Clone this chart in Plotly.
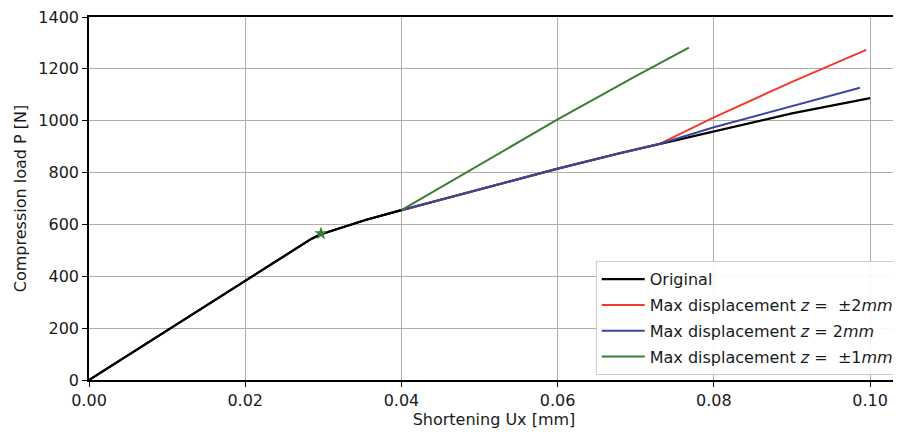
import plotly.graph_objects as go

orig_x = [0.0, 0.01, 0.02, 0.0255, 0.0272, 0.0285, 0.0297, 0.032, 0.0355, 0.04, 0.05, 0.06, 0.068, 0.073, 0.08, 0.09, 0.10]
orig_y = [0, 192, 385, 490, 522, 545, 562, 585, 618, 655, 735, 815, 875, 910, 960, 1028, 1087]

red_x = [0.04, 0.05, 0.06, 0.068, 0.073, 0.08, 0.09, 0.0995]
red_y = [655, 735, 815, 875, 910, 1013, 1150, 1273]

blue_x = [0.04, 0.05, 0.06, 0.068, 0.073, 0.08, 0.09, 0.0987]
blue_y = [655, 735, 815, 875, 910, 975, 1055, 1127]

green_x = [0.04, 0.05, 0.06, 0.07, 0.0768]
green_y = [655, 830, 1005, 1172, 1282]

star_x = [0.0297]
star_y = [565]

fig = go.Figure()
fig.add_trace(go.Scatter(x=orig_x, y=orig_y, mode="lines", name="Original",
                         line=dict(color="black", width=2.2), legendgroup="a"))
fig.add_trace(go.Scatter(x=red_x, y=red_y, mode="lines", name="Max displacement <i>z</i> =  ±2<i>mm</i>",
                         line=dict(color="#f03a2a", width=2), legendgroup="b"))
fig.add_trace(go.Scatter(x=blue_x, y=blue_y, mode="lines", name="Max displacement <i>z</i> = 2<i>mm</i>",
                         line=dict(color="#3c44a0", width=2), legendgroup="c"))
fig.add_trace(go.Scatter(x=green_x, y=green_y, mode="lines", name="Max displacement <i>z</i> =  ±1<i>mm</i>",
                         line=dict(color="#3a7d34", width=2), legendgroup="d"))
fig.add_trace(go.Scatter(x=orig_x[:10], y=orig_y[:10], mode="lines", showlegend=False,
                         line=dict(color="black", width=2.2)))
fig.add_trace(go.Scatter(x=star_x, y=star_y, mode="markers", showlegend=False,
                         marker=dict(symbol="star", size=10, color="#3a7d34")))

grid = "#b5aca8"
fig.update_layout(
    width=893, height=427,
    margin=dict(l=81, r=0, t=8, b=55),
    paper_bgcolor="white", plot_bgcolor="white",
    font=dict(family="DejaVu Sans", size=16, color="#1a1a1a"),
    xaxis=dict(range=[0, 0.1037], tickvals=[0, 0.02, 0.04, 0.06, 0.08, 0.10],
               ticktext=["0.00", "0.02", "0.04", "0.06", "0.08", "0.10"],
               showgrid=True, gridcolor=grid, gridwidth=1.2,
               showline=True, linecolor="black", linewidth=1.5, mirror=True,
               ticks="outside", ticklen=5, tickcolor="black", zeroline=False,
               ticklabeloverflow="allow",
               title=dict(text="Shortening Ux [mm]", font=dict(size=16), standoff=4)),
    yaxis=dict(range=[0, 1400], tickvals=[0, 200, 400, 600, 800, 1000, 1200, 1400],
               showgrid=True, gridcolor=grid, gridwidth=1.2,
               showline=True, linecolor="black", linewidth=1.5, mirror=True,
               ticks="outside", ticklen=5, tickcolor="black", zeroline=False,
               ticklabeloverflow="allow",
               title=dict(text="Compression load P [N]", font=dict(size=16), standoff=8)),
    legend=dict(x=0.6256, y=0.327, xanchor="left", yanchor="top",
                bgcolor="rgba(255,255,255,0.9)", bordercolor="#cccccc", borderwidth=1,
                font=dict(size=16), tracegroupgap=2, itemwidth=43),
    showlegend=True,
)

fig.write_html("out.html")
